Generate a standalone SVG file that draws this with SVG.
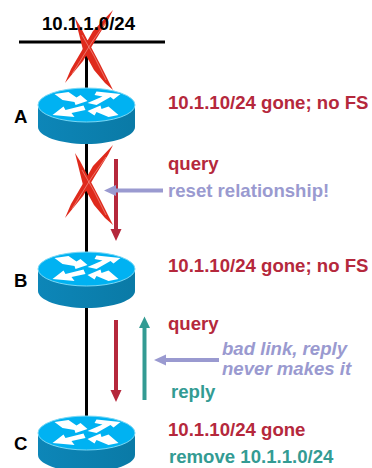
<svg xmlns="http://www.w3.org/2000/svg" xmlns:xlink="http://www.w3.org/1999/xlink" width="372" height="468" viewBox="0 0 372 468">
<style>
text{font-family:"Liberation Sans",Arial,sans-serif;font-weight:700;font-size:18.600px}
.k{fill:#000}.r{fill:#b5283c}.t{fill:#339b93}.l{fill:#9a9ad0}
.wire{stroke:#000;stroke-width:3;fill:none}
.shaft{fill:none;stroke-width:4}
</style>
<defs>
<linearGradient id="side" x1="0" y1="0" x2="1" y2="0"><stop offset="0" stop-color="#0d86b8"/><stop offset="1" stop-color="#0a7aa6"/></linearGradient>
<g id="router">
<path d="M-48.500 0V22C-48.500 31 -27 39 0 39S48.500 31 48.500 22V0Z" fill="url(#side)"/>
<ellipse rx="48.500" ry="17" fill="#00b2f2" stroke="#7ad8f5" stroke-width="1"/>
<g fill="#fff">
<path d="M-32 -11L-18 -13L-10 -7.500L-6 -10L1 -4L-11 0L-12 -3L-24 -5Z"/>
<path d="M10 -13.500L34 -11L27 -5.500L24 -8L10 0L1 -2L16 -8.500L8 -10Z"/>
<path d="M-34 10L-23 1.500L-21 5L-3 0.500L-1 5L-15 8L-12 12Z"/>
<path d="M1 6L14 0.500L15 4L22 1.500L32 10L22 12L10 7L8 10.500Z"/>
</g>
</g>
<g id="cross">
<path fill="#df2a1c" d="M75 18L80 26L91 47L100 64L113 90L105 83L94 70L83 50Z"/>
<path fill="#df2a1c" d="M113 10L108 20L95 41L83 61L65 83L71 69L81 52L93 31Z"/>
<path fill="none" stroke="#f3a79f" stroke-width=".6" d="M82 35L94 56L106 80M106 22L92 42L72 74"/>
</g>
</defs>
<g id="connectors">
<path class="wire" d="M19 42H165"/>
<path class="wire" d="M86.500 42V92"/>
<path class="wire" d="M86.500 140V256"/>
<path class="wire" d="M86.500 305V420"/>
<use xlink:href="#cross" href="#cross"/>
<use xlink:href="#cross" href="#cross" y="135"/>
<g id="arrow-query-1"><path class="shaft" stroke="#b5283c" d="M116 159V230"/><path fill="#b5283c" d="M110.500 229H121.500L116 241Z"/></g>
<g id="arrow-reset"><path class="shaft" stroke="#9a9ad0" d="M163 190.500H115"/><path fill="#9a9ad0" d="M116 185V196L104 190.500Z"/></g>
<g id="arrow-query-2"><path class="shaft" stroke="#b5283c" d="M116 320V391"/><path fill="#b5283c" d="M110.500 390H121.500L116 402Z"/></g>
<g id="arrow-reply"><path class="shaft" stroke="#339b93" d="M144.500 400V327"/><path fill="#339b93" d="M139 328H150L144.500 316.500Z"/></g>
<g id="arrow-bad"><path class="shaft" stroke="#9a9ad0" d="M219 360H165"/><path fill="#9a9ad0" d="M166 354.500V365.500L154 360Z"/></g>
</g>
<g id="net"><text class="k" x="42" y="30">10.1.1.0/24</text></g>
<g id="node-a"><use xlink:href="#router" href="#router" x="86.500" y="105"/><text class="k" x="14" y="123">A</text></g>
<g id="node-b"><use xlink:href="#router" href="#router" x="86.500" y="269"/><text class="k" x="14" y="287">B</text></g>
<g id="node-c"><use xlink:href="#router" href="#router" x="86.500" y="433"/><text class="k" x="14" y="450">C</text></g>
<g id="labels">
<text class="r" x="168" y="109">10.1.10/24 gone; no FS</text>
<text class="r" x="168" y="170">query</text>
<text class="l" x="168" y="197">reset relationship!</text>
<text class="r" x="168" y="272">10.1.10/24 gone; no FS</text>
<text class="r" x="168" y="330">query</text>
<text class="l" x="222" y="355" font-style="italic">bad link, reply</text>
<text class="l" x="222" y="375" font-style="italic">never makes it</text>
<text class="t" x="171" y="398">reply</text>
<text class="r" x="168" y="436">10.1.10/24 gone</text>
<text class="t" x="169" y="463">remove 10.1.1.0/24</text>
</g>
</svg>
